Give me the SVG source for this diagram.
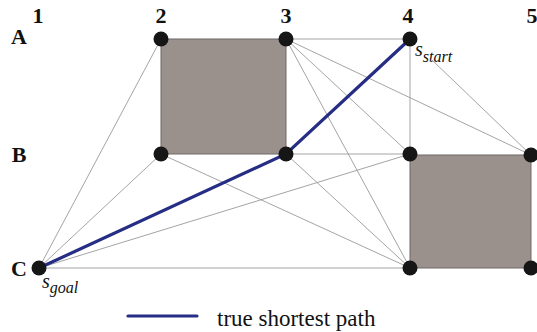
<svg xmlns="http://www.w3.org/2000/svg" width="537" height="332" viewBox="0 0 537 332">
  <style>
    .obstacle { fill: #9b918c; stroke: #6e6866; stroke-width: 1; }
    .edge { stroke: #9a9a9a; stroke-width: 0.9; fill: none; }
    .path { stroke: #262d84; stroke-width: 3.2; fill: none; stroke-linecap: round; }
    .node { fill: #161616; }
    .grid { font-family: "Liberation Serif", "Times New Roman", serif; font-weight: bold; font-size: 22px; fill: #111; }
    .sym { font-family: "Liberation Serif", "Times New Roman", serif; font-style: italic; fill: #111; }
    .legend { font-family: "Liberation Serif", "Times New Roman", serif; font-size: 23px; fill: #111; }
  </style>

  <!-- obstacles -->
  <g id="obstacles">
    <rect class="obstacle" x="161" y="39" width="125" height="115"/>
    <rect class="obstacle" x="410" y="155" width="121" height="113"/>
  </g>

  <!-- visibility graph edges and the shortest path -->
  <g id="connectors">
    <line class="edge" x1="39" y1="268" x2="161" y2="39"/>
    <line class="edge" x1="39" y1="268" x2="161" y2="154"/>
    <line class="edge" x1="39" y1="268" x2="410" y2="154"/>
    <line class="edge" x1="39" y1="268" x2="410" y2="268"/>
    <line class="edge" x1="161" y1="154" x2="410" y2="268"/>
    <line class="edge" x1="286" y1="39" x2="410" y2="39"/>
    <line class="edge" x1="286" y1="39" x2="531" y2="155"/>
    <line class="edge" x1="286" y1="39" x2="410" y2="154"/>
    <line class="edge" x1="286" y1="39" x2="410" y2="268"/>
    <line class="edge" x1="286" y1="154" x2="410" y2="154"/>
    <line class="edge" x1="286" y1="154" x2="410" y2="268"/>
    <line class="edge" x1="410" y1="39" x2="410" y2="154"/>
    <line class="edge" x1="432" y1="60" x2="531" y2="155"/>
    <polyline class="path" points="39,268 286,154 410,39"/>
  </g>

  <!-- vertices -->
  <g id="A2"><circle class="node" cx="161" cy="39" r="7.5"/></g>
  <g id="A3"><circle class="node" cx="286" cy="39" r="7.5"/></g>
  <g id="A4"><circle class="node" cx="410" cy="39" r="7.5"/></g>
  <g id="B2"><circle class="node" cx="161" cy="154" r="7.5"/></g>
  <g id="B3"><circle class="node" cx="286" cy="154" r="7.5"/></g>
  <g id="B4"><circle class="node" cx="410" cy="154" r="7.5"/></g>
  <g id="B5"><circle class="node" cx="531" cy="155" r="7.5"/></g>
  <g id="C1"><circle class="node" cx="39" cy="268" r="7.5"/></g>
  <g id="C4"><circle class="node" cx="410" cy="268" r="7.5"/></g>
  <g id="C5"><circle class="node" cx="531" cy="268" r="7.5"/></g>

  <!-- column and row labels -->
  <g id="labels">
    <text class="grid" x="38" y="23" text-anchor="middle">1</text>
    <text class="grid" x="161" y="23" text-anchor="middle">2</text>
    <text class="grid" x="286" y="23" text-anchor="middle">3</text>
    <text class="grid" x="408" y="23" text-anchor="middle">4</text>
    <text class="grid" x="532" y="23" text-anchor="middle">5</text>
    <text class="grid" x="19" y="44" text-anchor="middle">A</text>
    <text class="grid" x="19" y="162" text-anchor="middle">B</text>
    <text class="grid" x="19" y="276" text-anchor="middle">C</text>

    <text class="sym" x="415" y="56" font-size="20">s<tspan font-size="16" dy="6">start</tspan></text>
    <text class="sym" x="42" y="288" font-size="20">s<tspan font-size="16" dy="5">goal</tspan></text>
  </g>

  <!-- legend -->
  <g id="legend">
    <line class="path" x1="128" y1="316" x2="197" y2="316" stroke-width="4" stroke-linecap="butt"/>
    <text class="legend" x="217" y="326">true shortest path</text>
  </g>
</svg>
